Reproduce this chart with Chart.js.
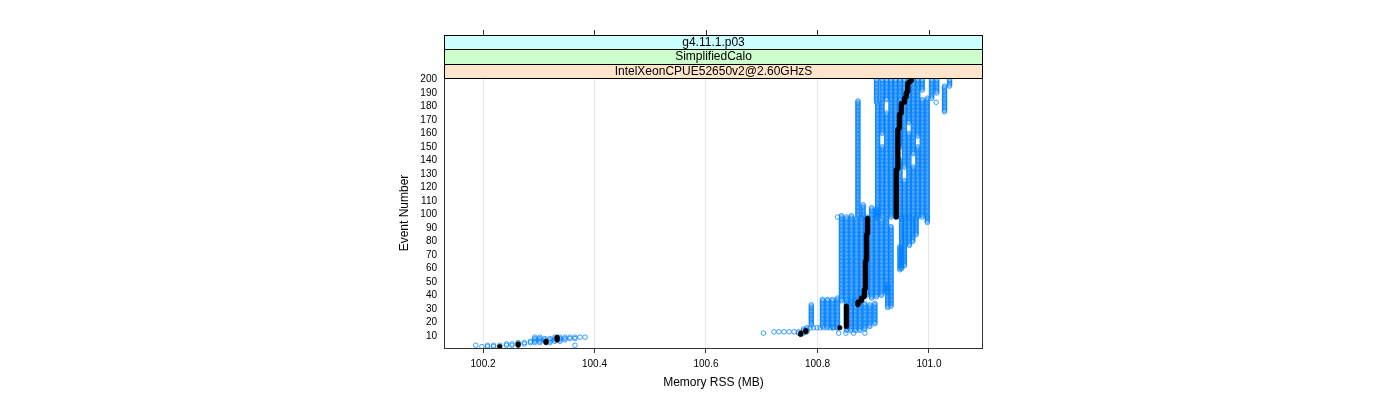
<!DOCTYPE html>
<html><head><meta charset="utf-8">
<script src="https://cdn.jsdelivr.net/npm/chart.js@4.4.0/dist/chart.umd.min.js"></script>
<style>html,body{margin:0;padding:0;background:#fff;overflow:hidden}#wrap{width:1400px;height:400px}</style>
</head><body><div id="wrap"><canvas id="c" width="1400" height="400"></canvas></div>
<script>
const stripLabels = ['g4.11.1.p03', 'SimplifiedCalo', 'IntelXeonCPUE52650v2@2.60GHzS'];
const stripColors = ['#ccffff', '#ccffcc', '#ffe5cc'];
const xTickValues = [100.2, 100.4, 100.6, 100.8, 101.0];
const xTickLabels = ['100.2', '100.4', '100.6', '100.8', '101.0'];
const yTickValues = [10,20,30,40,50,60,70,80,90,100,110,120,130,140,150,160,170,180,190,200];
const xTitle = 'Memory RSS (MB)';
const yTitle = 'Event Number';

// blue run samples: [memory RSS (MB), first event, last event] (memory constant over the events)
const blueSegments = [
  [100.187,3,3],[100.198,2,2],[100.208,2,3],[100.219,2,3],[100.230,3,3],[100.242,3,4],[100.252,3,4],
  [100.263,4,5],[100.274,4,5],[100.285,5,6],[100.293,5,9],[100.302,5,9],[100.311,6,8],[100.320,5,8],
  [100.329,6,9],[100.338,6,9],[100.347,7,9],[100.356,8,9],[100.365,3,3],[100.365,8,9],[100.374,9,9],[100.383,9,9],
  [100.703,12,12],
  [100.722,13,13],[100.731,13,13],[100.740,13,13],[100.749,13,13],[100.758,13,13],
  [100.766,12,13],[100.775,12,15],[100.781,13,16],
  [100.787,16,16],[100.793,16,16],[100.799,16,16],[100.805,16,16],[100.811,16,16],[100.817,16,16],
  [100.823,16,16],[100.829,16,16],[100.835,16,16],
  [100.789,18,33],
  [100.809,17,37],[100.818,17,37],[100.827,16,37],[100.836,16,38],
  [100.838,12,12],[100.851,12,12],[100.865,12,12],[100.885,12,12],
  [100.852,14,35],[100.860,14,35],[100.868,14,36],[100.876,14,35],[100.885,15,34],[100.894,17,33],[100.903,19,34],
  [100.926,31,48],
  [100.843,36,99],[100.852,36,98],[100.861,35,99],[100.870,36,97],[100.879,37,98],[100.888,40,98],
  [100.897,38,97],[100.906,39,98],[100.915,40,96],[100.924,42,98],[100.932,32,91],
  [100.948,59,76],[100.951,60,98],[100.956,62,98],[100.965,77,98],[100.971,80,97],[100.977,85,98],[100.997,94,98],
  [100.836,98,98],[100.8726,98,184],[100.882,98,107],
  [100.897,98,105],[100.906,98,104],[100.924,99,104],
  [100.908,98,182],[100.906,183,200],
  [100.916,98,150],[100.916,160,200],
  [100.924,105,175],[100.924,185,200],
  [100.932,98,200],[100.940,98,200],
  [100.948,98,140],[100.948,150,200],
  [100.956,98,125],[100.956,135,200],
  [100.964,98,160],[100.964,168,200],
  [100.972,98,135],[100.972,145,200],
  [100.980,98,150],[100.980,158,200],
  [100.988,98,185],[100.988,192,200],
  [100.997,98,186],[101.005,186,200],[101.014,190,200],[101.013,183,183],
  [101.028,176,195],[101.037,195,200]
];

// black median: [memory RSS (MB), first event, last event]
const medianSegments = [
  [100.230,2,2],[100.263,3,4],[100.313,5,6],[100.333,7,9],
  [100.770,11,12],[100.779,13,14],[100.840,16,16],[100.852,17,32],
  [100.8726,33,35],[100.879,36,38],[100.884,39,44],[100.886,45,65],[100.888,66,85],[100.890,86,97],
  [100.9414,98,133],[100.9443,134,163],[100.947,164,174],[100.9505,175,182],
  [100.9563,183,186],[100.9593,187,190],[100.962,191,197],[100.965,198,198],[100.9683,199,200]
];

function expand(segs) {
  const pts = [];
  for (const [m, a, b] of segs) for (let e = a; e <= b; e++) pts.push({x: m, y: e});
  return pts;
}

const FONT = "'Liberation Sans', Arial, Helvetica, sans-serif";

const decor = {
  id: 'decor',
  afterDatasetsDraw(chart) {
    const ctx = chart.ctx, a = chart.chartArea;
    ctx.save();
    // panel frame
    ctx.strokeStyle = '#333'; ctx.lineWidth = 1;
    ctx.strokeRect(Math.round(a.left) + 0.5, Math.round(a.top) + 0.5,
      Math.round(a.right - a.left) - 1, Math.round(a.bottom - a.top));
    // strips
    const sh = 14.33;
    const topStrip = a.top - sh * stripLabels.length;
    for (let i = 0; i < stripLabels.length; i++) {
      const y0 = Math.round(topStrip + i * sh), y1 = Math.round(topStrip + (i + 1) * sh);
      ctx.fillStyle = stripColors[i];
      ctx.fillRect(a.left, y0, a.right - a.left, y1 - y0);
      ctx.strokeStyle = '#000';
      ctx.strokeRect(Math.round(a.left) + 0.5, y0 + 0.5, Math.round(a.right - a.left) - 1, y1 - y0);
      ctx.fillStyle = '#000';
      ctx.font = '12px ' + FONT;
      ctx.textAlign = 'center'; ctx.textBaseline = 'middle';
      ctx.fillText(stripLabels[i], (a.left + a.right) / 2, (y0 + y1) / 2 + 0.5);
    }
    // top tick marks
    ctx.strokeStyle = '#333';
    const xs = chart.scales.x;
    for (const v of xTickValues) {
      const px = Math.round(xs.getPixelForValue(v)) + 0.5;
      ctx.beginPath(); ctx.moveTo(px, Math.round(topStrip)); ctx.lineTo(px, Math.round(topStrip) - 5); ctx.stroke();
    }
    ctx.restore();
  }
};

new Chart(document.getElementById('c'), {
  type: 'scatter',
  data: {
    datasets: [
      { label: 'median', data: expand(medianSegments), order: 0, showLine: false,
        pointRadius: 2.3, pointBackgroundColor: '#000', pointBorderColor: '#000', pointBorderWidth: 0.6 },
      { label: 'runs', data: expand(blueSegments), order: 1, showLine: false,
        pointRadius: 2.3, pointBackgroundColor: 'rgba(0,0,0,0)', pointBorderColor: '#0080ff', pointBorderWidth: 0.75 }
    ]
  },
  options: {
    responsive: false, animation: false, devicePixelRatio: 1,
    layout: { padding: { left: 397, top: 78, right: 417, bottom: 0 } },
    plugins: { legend: { display: false }, tooltip: { enabled: false } },
    events: [],
    scales: {
      x: {
        type: 'linear', min: 100.13, max: 101.097,
        afterBuildTicks: s => { s.ticks = xTickValues.map(v => ({ value: v })); },
        afterFit: s => { s.height = 52; },
        ticks: { callback: (v, i) => xTickLabels[i], color: '#000', padding: 5, maxRotation: 0, autoSkip: false,
                 font: { family: FONT, size: 10 } },
        grid: { color: '#e6e6e6', tickColor: '#333', tickLength: 5, drawTicks: true },
        border: { display: false },
        title: { display: true, text: xTitle, color: '#000', font: { family: FONT, size: 12 }, padding: { top: 0, bottom: 10 } }
      },
      y: {
        type: 'linear', min: 1, max: 201,
        afterBuildTicks: s => { s.ticks = yTickValues.map(v => ({ value: v })); },
        afterFit: s => { s.width = 47; },
        ticks: { callback: v => String(v), color: '#000', padding: 7, autoSkip: false,
                 font: { family: FONT, size: 10 } },
        grid: { display: false, drawTicks: false },
        border: { display: false },
        title: { display: true, text: yTitle, color: '#000', font: { family: FONT, size: 12 }, padding: { top: 0, bottom: 0 } }
      }
    }
  },
  plugins: [decor]
});
</script>
</body></html>
